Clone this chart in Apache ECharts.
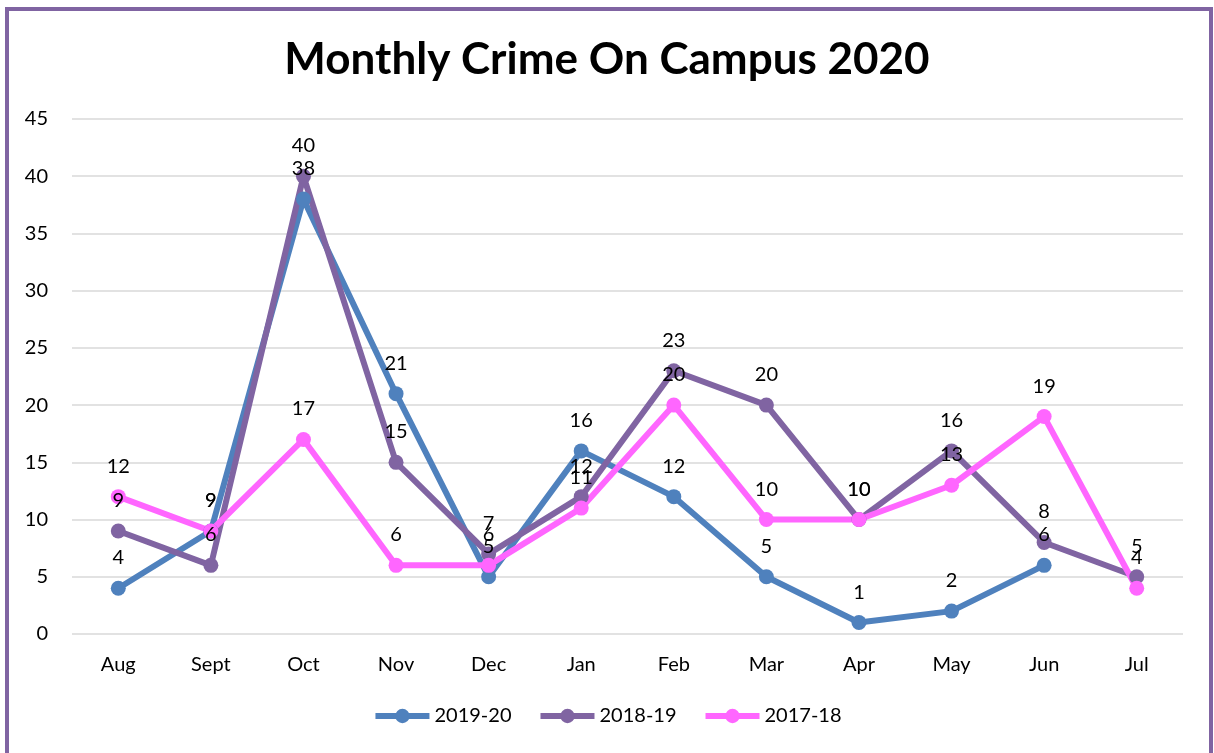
<!DOCTYPE html>
<html>
<head>
<meta charset="utf-8">
<script src="https://cdn.jsdelivr.net/npm/echarts@6/dist/echarts.min.js"></script>
<style>
  html, body { margin: 0; padding: 0; background: #fff; }
  #chart { width: 1214px; height: 753px; }
</style>
</head>
<body>
<div id="chart"></div>
<script>
const months = ['Aug', 'Sept', 'Oct', 'Nov', 'Dec', 'Jan', 'Feb', 'Mar', 'Apr', 'May', 'Jun', 'Jul'];
const crime1920 = [4, 9, 38, 21, 5, 16, 12, 5, 1, 2, 6, null];
const crime1819 = [9, 6, 40, 15, 7, 12, 23, 20, 10, 16, 8, 5];
const crime1718 = [12, 9, 17, 6, 6, 11, 20, 10, 10, 13, 19, 4];
const seriesNames = ['2019-20', '2018-19', '2017-18'];
const colors = ['#4F81BD', '#8064A2', '#FF66FF'];

const font = 'Lato, "Noto Sans", sans-serif';

function makeSeries(name, data, color) {
    return {
        name: name,
        type: 'line',
        data: data,
        symbol: 'circle',
        symbolSize: 15,
        color: color,
        lineStyle: { width: 6, color: color },
        itemStyle: { color: color },
        label: {
            show: true,
            position: 'top',
            distance: 13,
            color: '#000',
            fontSize: 20,
            fontFamily: font
        }
    };
}

const chart = echarts.init(document.getElementById('chart'));
chart.setOption({
    animation: false,
    backgroundColor: '#fff',
    title: {
        text: 'Monthly Crime On Campus 2020',
        left: 'center',
        top: 33,
        textStyle: { fontSize: 44, fontWeight: 'bold', color: '#000', fontFamily: font }
    },
    graphic: [{
        type: 'rect',
        shape: { x: 7, y: 9, width: 1204, height: 800 },
        style: { fill: 'none', stroke: '#8064A2', lineWidth: 4 },
        silent: true
    }],
    legend: {
        bottom: 22,
        left: 'center',
        itemWidth: 54,
        itemHeight: 18,
        itemGap: 26,
        lineStyle: { width: 6 },
        textStyle: { fontSize: 20, color: '#000', fontFamily: font },
        data: seriesNames
    },
    grid: { left: 72, right: 31, top: 119, bottom: 119, containLabel: false },
    xAxis: {
        type: 'category',
        data: months,
        boundaryGap: true,
        axisLine: { show: false },
        axisTick: { show: false },
        axisLabel: { fontSize: 20, color: '#000', margin: 21, fontFamily: font }
    },
    yAxis: {
        type: 'value',
        min: 0,
        max: 45,
        interval: 5,
        axisLine: { show: false },
        axisTick: { show: false },
        axisLabel: { fontSize: 20, color: '#000', margin: 24, fontFamily: font },
        splitLine: { lineStyle: { color: '#D9D9D9', width: 1.5 } }
    },
    series: [
        makeSeries(seriesNames[0], crime1920, colors[0]),
        makeSeries(seriesNames[1], crime1819, colors[1]),
        makeSeries(seriesNames[2], crime1718, colors[2])
    ]
});
</script>
</body>
</html>
